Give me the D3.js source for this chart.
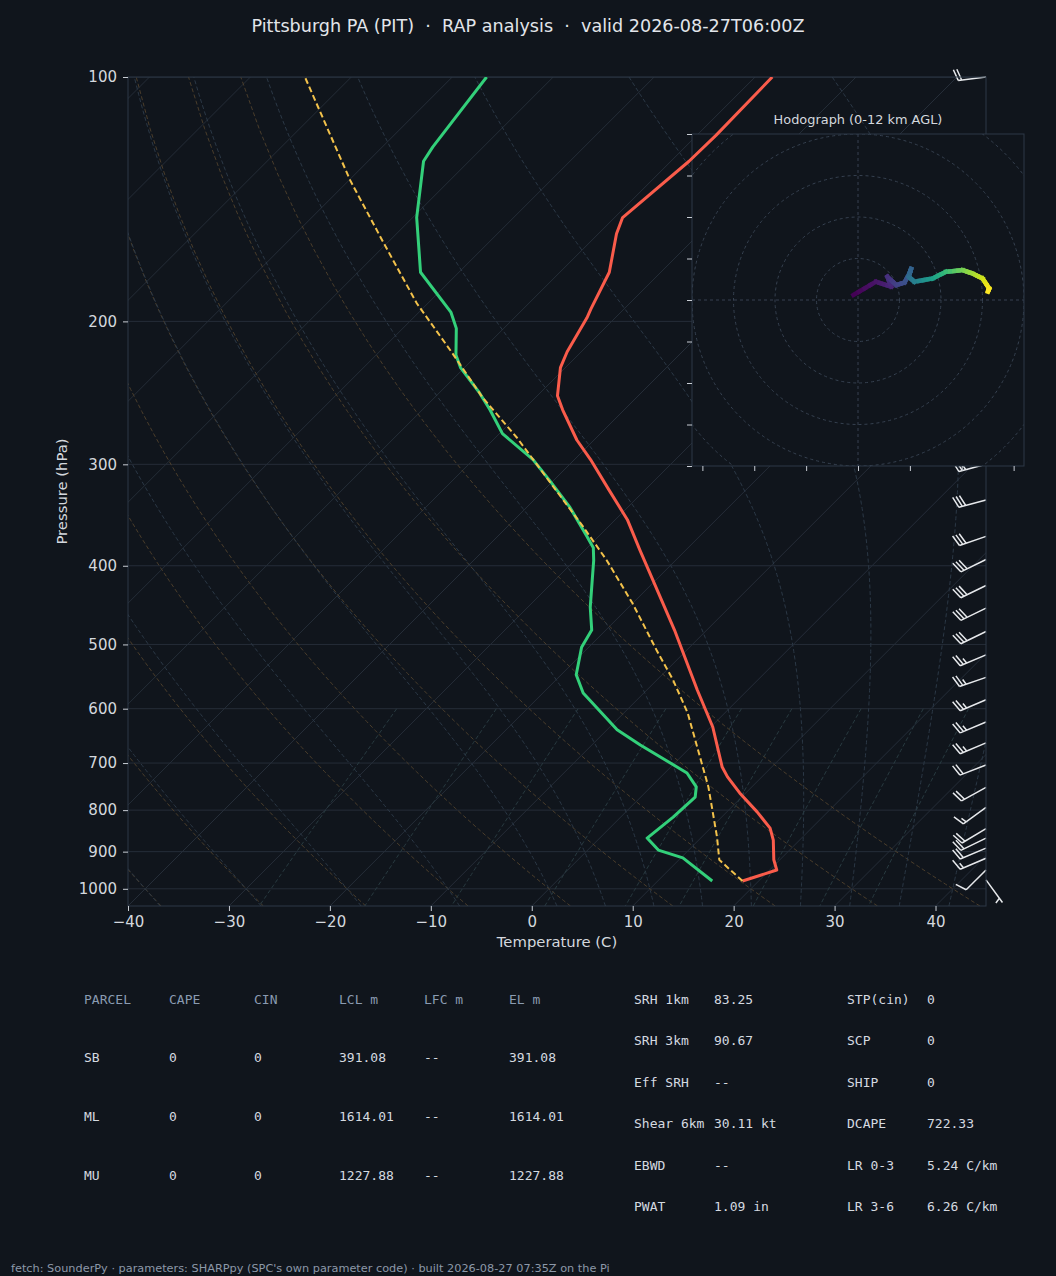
<!DOCTYPE html>
<html>
<head>
<meta charset="utf-8">
<script src="https://cdn.jsdelivr.net/npm/d3@7"></script>
<style>
  html, body { margin: 0; padding: 0; background: #10151c; }
  svg { display: block; }
  text { font-family: "DejaVu Sans", sans-serif; }
</style>
</head>
<body>
<svg id="chart" width="1056" height="1276"></svg>
<script>
// ---- sounding data ----
const tempP = [978, 948, 921, 871, 842, 804, 762, 728, 708, 632, 569, 480, 414, 383, 351, 323, 296, 280, 257, 247, 228, 218, 198, 193, 174, 156, 149, 127, 118, 100];
const tempC = [18.4, 20.7, 19.4, 17.4, 15.9, 13.0, 9.4, 6.6, 5.1, 0.2, -5.0, -13.2, -20.6, -24.5, -28.8, -33.5, -38.4, -41.7, -46.1, -48.0, -50.5, -51.4, -52.8, -53.3, -55.1, -58.2, -59.2, -58.2, -58.1, -58.3];

const dewP = [978, 916, 896, 866, 816, 771, 749, 720, 665, 637, 574, 545, 504, 480, 450, 414, 394, 380, 367, 339, 314, 296, 275, 257, 245, 228, 220, 204, 195, 174, 149, 127, 122, 100];
const dewC = [15.4, 10.2, 7.0, 4.7, 5.2, 5.4, 4.5, 2.2, -5.2, -9.0, -16.0, -18.5, -20.7, -21.4, -23.8, -26.5, -28.1, -29.4, -31.3, -35.7, -40.4, -44.1, -49.7, -53.3, -56.0, -60.4, -62.1, -64.7, -66.8, -73.8, -79.6, -84.5, -85.0, -86.6];

const parcelP = [978, 948, 921, 863, 749, 688, 607, 553, 508, 445, 394, 358, 316, 278, 248, 219, 190, 160, 134, 100];
const parcelC = [18.4, 16.1, 14.0, 11.5, 5.7, 1.9, -3.7, -8.4, -13.0, -20.0, -26.8, -32.5, -40.1, -47.9, -55.3, -62.6, -71.1, -80.4, -89.9, -104.6];

// wind barbs: pressure (hPa), direction (deg), speed (kt)
const barbP   = [100, 150, 200, 250, 300, 332, 368, 393, 423, 451, 482, 515, 549, 585, 623, 661, 704, 750, 794, 843, 866, 891, 917, 948, 975];
const barbDir = [263, 260, 260, 258, 255, 255, 251, 244, 244, 244, 244, 247, 251, 247, 247, 247, 249, 241, 234, 239, 244, 247, 247, 225, 144];
const barbKt  = [20, 30, 30, 30, 30, 30, 30, 30, 30, 30, 30, 25, 25, 25, 25, 25, 20, 20, 15, 20, 20, 20, 15, 10, 5];

// hodograph (kt) coloured by height (km AGL)
const hodoU  = [-1.1, 4.3, 8.0, 7.1, 9.2, 11.2, 12.4, 12.8, 12.2, 13.6, 18.0, 21.2, 25.2, 27.6, 30.0, 31.6, 31.3];
const hodoV  = [1.2, 4.4, 3.2, 5.6, 3.6, 4.2, 6.4, 7.5, 5.6, 4.4, 5.2, 6.8, 7.2, 6.4, 5.2, 2.8, 2.0];
const hodoKm = [0, 0.6, 1.2, 1.6, 2.2, 2.8, 3.4, 3.7, 4.0, 5.0, 6.6, 8.0, 9.4, 10.2, 11.0, 11.8, 12.0];
const hodoRings = [10, 20, 30, 40, 50];
const hodoXTicks = [-37.5, -25, -12.5, 0, 12.5, 25, 37.5];
const hodoYTicks = [-40, -30, -20, -10, 0, 10, 20, 30, 40];

// axes ticks
const pTicks = [100, 200, 300, 400, 500, 600, 700, 800, 900, 1000];
const tTicks = [-40, -30, -20, -10, 0, 10, 20, 30, 40];

// background line families
const dryT0 = [-40, -30, -20, -10, 0, 10, 20, 30, 40];
const moistT0 = [-40, -30, -20, -10, 0, 5, 10, 15, 20, 25, 30, 35, 40, 45];
const mixRatios = [0.0004, 0.001, 0.002, 0.004, 0.007, 0.01, 0.016, 0.024, 0.032];

// parameter tables
const parcelHead = ["PARCEL", "CAPE", "CIN", "LCL m", "LFC m", "EL m"];
const parcelRows = [
  ["SB", "0", "0", "391.08", "--", "391.08"],
  ["ML", "0", "0", "1614.01", "--", "1614.01"],
  ["MU", "0", "0", "1227.88", "--", "1227.88"]
];
const statsLeft = [["SRH 1km", "83.25"], ["SRH 3km", "90.67"], ["Eff SRH", "--"], ["Shear 6km", "30.11 kt"], ["EBWD", "--"], ["PWAT", "1.09 in"]];
const statsRight = [["STP(cin)", "0"], ["SCP", "0"], ["SHIP", "0"], ["DCAPE", "722.33"], ["LR 0-3", "5.24 C/km"], ["LR 3-6", "6.26 C/km"]];

const titleText = "Pittsburgh PA (PIT)  ·  RAP analysis  ·  valid 2026-08-27T06:00Z";
const footerText = "fetch: SounderPy · parameters: SHARPpy (SPC's own parameter code) · built 2026-08-27 07:35Z on the Pi";

// ---- layout ----
const W = 1056, H = 1276;
const BG = "#10151c";
const plot = { left: 128, right: 986, top: 77, bottom: 906 };

const svg = d3.select("#chart");
svg.append("rect").attr("width", W).attr("height", H).attr("fill", BG);

const x = d3.scaleLinear().domain([-40, 45]).range([plot.left, plot.right]);
const y = d3.scaleLog().domain([1050, 100]).range([plot.bottom, plot.top]);
// 45 degree skew in pixel space
const skewX = (t, p) => x(t) + (plot.bottom - y(p));

const defs = svg.append("defs");
defs.append("clipPath").attr("id", "plotClip").append("rect")
  .attr("x", plot.left).attr("y", plot.top)
  .attr("width", plot.right - plot.left).attr("height", plot.bottom - plot.top);

const profLine = d3.line().x(d => skewX(d[1], d[0])).y(d => y(d[0]));

// ---- background grid ----
const grid = svg.append("g").attr("clip-path", "url(#plotClip)");

grid.selectAll(".isobar").data(pTicks).join("line")
  .attr("x1", plot.left).attr("x2", plot.right)
  .attr("y1", d => y(d)).attr("y2", d => y(d))
  .attr("stroke", "#252d38").attr("stroke-width", 1);

grid.selectAll(".isotherm").data(d3.range(-140, 50, 10)).join("line")
  .attr("x1", d => skewX(d, 1050)).attr("y1", y(1050))
  .attr("x2", d => skewX(d, 100)).attr("y2", y(100))
  .attr("stroke", "#252d38").attr("stroke-width", 1);

// dry adiabats
const pLin = d3.range(0, 61).map(i => 1050 - i * 950 / 60);
grid.selectAll(".dry").data(dryT0).join("path")
  .attr("d", t0 => profLine(pLin.map(p => [p, (t0 + 273.15) * Math.pow(p / 1000, 0.28571) - 273.15])))
  .attr("fill", "none").attr("stroke", "#4a3d2b").attr("stroke-width", 1)
  .attr("stroke-dasharray", "4,2.5");

// moist adiabats
const Rd = 287.04749, Lv = 2.50084e6, Cpd = 1004.6662, eps = 0.622;
function satVap(tK) { const tc = tK - 273.15; return 6.112 * Math.exp(17.67 * tc / (tc + 243.5)); }
function dTdp(p, tK) {
  const es = satVap(tK), rs = eps * es / (p - es);
  return (Rd * tK + Lv * rs) / (Cpd + Lv * Lv * rs * eps / (Rd * tK * tK)) / p;
}
function moistLine(t0) {
  const pts = [];
  [[-5, 100], [5, 1050]].forEach(([step, stop]) => {
    let p = 1000, T = t0 + 273.15;
    const seg = [[p, t0]];
    while ((step < 0 && p > stop + 1e-6) || (step > 0 && p < stop - 1e-6)) {
      const h = step;
      const k1 = dTdp(p, T), k2 = dTdp(p + h / 2, T + h / 2 * k1);
      const k3 = dTdp(p + h / 2, T + h / 2 * k2), k4 = dTdp(p + h, T + h * k3);
      T += h / 6 * (k1 + 2 * k2 + 2 * k3 + k4); p += h;
      seg.push([p, T - 273.15]);
    }
    if (step < 0) pts.push(...seg.reverse()); else pts.push(...seg.slice(1));
  });
  return pts.sort((a, b) => b[0] - a[0]);
}
grid.selectAll(".moist").data(moistT0).join("path")
  .attr("d", t0 => profLine(moistLine(t0)))
  .attr("fill", "none").attr("stroke", "#2b3846").attr("stroke-width", 1)
  .attr("stroke-dasharray", "4,2.5");

// mixing ratio lines
const pMix = d3.range(0, 31).map(i => 600 + i * 450 / 30);
function dewFromMix(p, w) {
  const e = p * w / (eps + w), a = Math.log(e / 6.112);
  return 243.5 * a / (17.67 - a);
}
grid.selectAll(".mix").data(mixRatios).join("path")
  .attr("d", w => profLine(pMix.map(p => [p, dewFromMix(p, w)])))
  .attr("fill", "none").attr("stroke", "#283a40").attr("stroke-width", 1)
  .attr("stroke-dasharray", "4,2.5");

// ---- wind barbs ----
const BL = 28;
function barbPath(tipX, tipY, dir, spd) {
  const r = dir * Math.PI / 180;
  const u = -spd * Math.sin(r), v = -spd * Math.cos(r);
  const phi = Math.atan2(v, u) + Math.PI / 2;
  const c = Math.cos(phi), s = Math.sin(phi);
  const P = (a, b) => `${(tipX + a * c - b * s).toFixed(2)},${(tipY - (a * s + b * c)).toFixed(2)}`;
  let rem = Math.round(spd / 5) * 5;
  const nfull = Math.floor(rem / 10); rem -= nfull * 10;
  const half = rem >= 5;
  const hgt = 0.4 * BL, wid = 0.25 * BL, sp = 0.125 * BL;
  let d = `M${P(0, 0)}L${P(0, BL)}`;
  let off = BL;
  for (let i = 0; i < nfull; i++) {
    d += `M${P(0, off)}L${P(hgt, off + wid / 2)}`;
    off -= sp;
  }
  if (half) {
    if (off === BL) off -= 1.5 * sp;
    d += `M${P(0, off)}L${P(hgt / 2, off + wid / 4)}`;
  }
  return d;
}
svg.append("g").selectAll("path").data(barbP).join("path")
  .attr("d", (p, i) => barbPath(plot.right, y(p), barbDir[i], barbKt[i]))
  .attr("fill", "none").attr("stroke", "#e6e8eb").attr("stroke-width", 1.5)
  .attr("stroke-linecap", "butt");

// ---- main axes frame, ticks, labels ----
const axisColor = "#2d3846";
const tickColor = "#c8cdd4";
svg.append("rect")
  .attr("x", plot.left).attr("y", plot.top)
  .attr("width", plot.right - plot.left).attr("height", plot.bottom - plot.top)
  .attr("fill", "none").attr("stroke", axisColor).attr("stroke-width", 1);

const yAxis = d3.axisLeft(y).tickValues(pTicks).tickFormat(d3.format("d")).tickSize(5).tickPadding(6);
const yg = svg.append("g").attr("transform", `translate(${plot.left},0)`).call(yAxis);
const xAxis = d3.axisBottom(x).tickValues(tTicks).tickFormat(d => d < 0 ? "\u2212" + Math.abs(d) : d).tickSize(5).tickPadding(5);
const xg = svg.append("g").attr("transform", `translate(0,${plot.bottom})`).call(xAxis);
[yg, xg].forEach(ax => {
  ax.select(".domain").remove();
  ax.selectAll(".tick line").attr("stroke", tickColor);
  ax.selectAll(".tick text").attr("fill", "#d4d8de").style("font-family", "DejaVu Sans").style("font-size", "15px");
});

svg.append("text")
  .attr("transform", `translate(63,${(plot.top + plot.bottom) / 2}) rotate(-90)`)
  .attr("text-anchor", "middle").attr("dominant-baseline", "middle")
  .attr("fill", "#d4d8de").style("font-size", "14.8px").text("Pressure (hPa)");
svg.append("text")
  .attr("x", (plot.left + plot.right) / 2).attr("y", 943)
  .attr("text-anchor", "middle").attr("dominant-baseline", "middle")
  .attr("fill", "#d4d8de").style("font-size", "14.8px").text("Temperature (C)");

// ---- hodograph inset (drawn over grid and barbs) ----
const hbox = { left: 692, right: 1024, top: 134, bottom: 466 };
const hx = d3.scaleLinear().domain([-40, 40]).range([hbox.left, hbox.right]);
const hy = d3.scaleLinear().domain([-40, 40]).range([hbox.bottom, hbox.top]);
defs.append("clipPath").attr("id", "hodoClip").append("rect")
  .attr("x", hbox.left).attr("y", hbox.top)
  .attr("width", hbox.right - hbox.left).attr("height", hbox.bottom - hbox.top);

const hodo = svg.append("g");
hodo.append("rect")
  .attr("x", hbox.left).attr("y", hbox.top)
  .attr("width", hbox.right - hbox.left).attr("height", hbox.bottom - hbox.top)
  .attr("fill", BG);
const hin = hodo.append("g").attr("clip-path", "url(#hodoClip)");
hin.selectAll("circle").data(hodoRings).join("circle")
  .attr("cx", hx(0)).attr("cy", hy(0)).attr("r", d => hx(d) - hx(0))
  .attr("fill", "none").attr("stroke", "#364150").attr("stroke-width", 1).attr("stroke-dasharray", "3,3");
hin.append("line").attr("x1", hbox.left).attr("x2", hbox.right).attr("y1", hy(0)).attr("y2", hy(0))
  .attr("stroke", "#364150").attr("stroke-dasharray", "3,3");
hin.append("line").attr("y1", hbox.top).attr("y2", hbox.bottom).attr("x1", hx(0)).attr("x2", hx(0))
  .attr("stroke", "#364150").attr("stroke-dasharray", "3,3");

// colour-by-height segments
const hodoSegs = [];
for (let i = 0; i < hodoU.length - 1; i++) {
  const n = 4;
  for (let k = 0; k < n; k++) {
    const a = k / n, b = (k + 1) / n;
    hodoSegs.push({
      u1: hodoU[i] + (hodoU[i + 1] - hodoU[i]) * a, v1: hodoV[i] + (hodoV[i + 1] - hodoV[i]) * a,
      u2: hodoU[i] + (hodoU[i + 1] - hodoU[i]) * b, v2: hodoV[i] + (hodoV[i + 1] - hodoV[i]) * b,
      h: hodoKm[i] + (hodoKm[i + 1] - hodoKm[i]) * (a + b) / 2
    });
  }
}
const hColor = d3.scaleSequential(d3.interpolateViridis).domain([0, 12]);
hin.selectAll(".hseg").data(hodoSegs).join("line")
  .attr("x1", d => hx(d.u1)).attr("y1", d => hy(d.v1))
  .attr("x2", d => hx(d.u2)).attr("y2", d => hy(d.v2))
  .attr("stroke", d => hColor(d.h)).attr("stroke-width", 4.5).attr("stroke-linecap", "square");

hodo.append("rect")
  .attr("x", hbox.left).attr("y", hbox.top)
  .attr("width", hbox.right - hbox.left).attr("height", hbox.bottom - hbox.top)
  .attr("fill", "none").attr("stroke", axisColor);
hodo.append("g").attr("transform", `translate(${hbox.left},0)`)
  .call(d3.axisLeft(hy).tickValues(hodoYTicks).tickSize(5).tickFormat(""))
  .call(a => a.select(".domain").remove())
  .call(a => a.selectAll(".tick line").attr("stroke", tickColor));
hodo.append("g").attr("transform", `translate(0,${hbox.bottom})`)
  .call(d3.axisBottom(hx).tickValues(hodoXTicks).tickSize(5).tickFormat(""))
  .call(a => a.select(".domain").remove())
  .call(a => a.selectAll(".tick line").attr("stroke", tickColor));
hodo.append("text")
  .attr("x", (hbox.left + hbox.right) / 2).attr("y", 120)
  .attr("text-anchor", "middle").attr("dominant-baseline", "middle")
  .attr("fill", "#d4d8de").style("font-size", "12.9px").text("Hodograph (0-12 km AGL)");

// ---- profiles (on top) ----
const prof = svg.append("g").attr("clip-path", "url(#plotClip)");
prof.append("path").datum(tempP.map((p, i) => [p, tempC[i]]))
  .attr("d", profLine).attr("fill", "none").attr("stroke", "#fa5c4b").attr("stroke-width", 3)
  .attr("stroke-linejoin", "round");
prof.append("path").datum(dewP.map((p, i) => [p, dewC[i]]))
  .attr("d", profLine).attr("fill", "none").attr("stroke", "#33d07a").attr("stroke-width", 3)
  .attr("stroke-linejoin", "round");
prof.append("path").datum(parcelP.map((p, i) => [p, parcelC[i]]))
  .attr("d", profLine).attr("fill", "none").attr("stroke", "#f3c24b").attr("stroke-width", 2)
  .attr("stroke-dasharray", "6,3.2");

// ---- title ----
svg.append("text")
  .attr("x", W / 2).attr("y", 27).attr("xml:space", "preserve")
  .attr("text-anchor", "middle").attr("dominant-baseline", "middle")
  .attr("fill", "#e2e5ea").style("font-size", "17.6px").style("white-space", "pre")
  .text(titleText);

// ---- parcel table ----
const colX = [84, 169, 254, 339, 424, 509];
const rowY = [1000, 1058, 1117, 1176];
const tbl = svg.append("g");
tbl.selectAll(".hd").data(parcelHead).join("text")
  .attr("x", (d, i) => colX[i]).attr("y", rowY[0]).attr("dominant-baseline", "middle")
  .attr("fill", "#8a9bb1").style("font-family", "DejaVu Sans Mono").style("font-size", "13px").text(d => d);
parcelRows.forEach((row, r) => {
  tbl.selectAll(".r" + r).data(row).join("text")
    .attr("x", (d, i) => colX[i]).attr("y", rowY[r + 1]).attr("dominant-baseline", "middle")
    .attr("fill", "#d5dae0").style("font-family", "DejaVu Sans Mono").style("font-size", "13px").text(d => d);
});

// ---- stats columns ----
const statY = [1000, 1041, 1083, 1124, 1166, 1207];
function statCol(data, xl, xv) {
  const g = svg.append("g");
  data.forEach((d, i) => {
    g.append("text").attr("x", xl).attr("y", statY[i]).attr("dominant-baseline", "middle")
      .attr("fill", "#d5dae0").style("font-family", "DejaVu Sans Mono").style("font-size", "13px").text(d[0]);
    g.append("text").attr("x", xv).attr("y", statY[i]).attr("dominant-baseline", "middle")
      .attr("fill", "#d5dae0").style("font-family", "DejaVu Sans Mono").style("font-size", "13px").text(d[1]);
  });
}
statCol(statsLeft, 634, 714);
statCol(statsRight, 847, 927);

// ---- footer ----
svg.append("text")
  .attr("x", 11).attr("y", 1269).attr("dominant-baseline", "middle")
  .attr("fill", "#8c98a8").style("font-size", "11.3px").text(footerText);
</script>
</body>
</html>
